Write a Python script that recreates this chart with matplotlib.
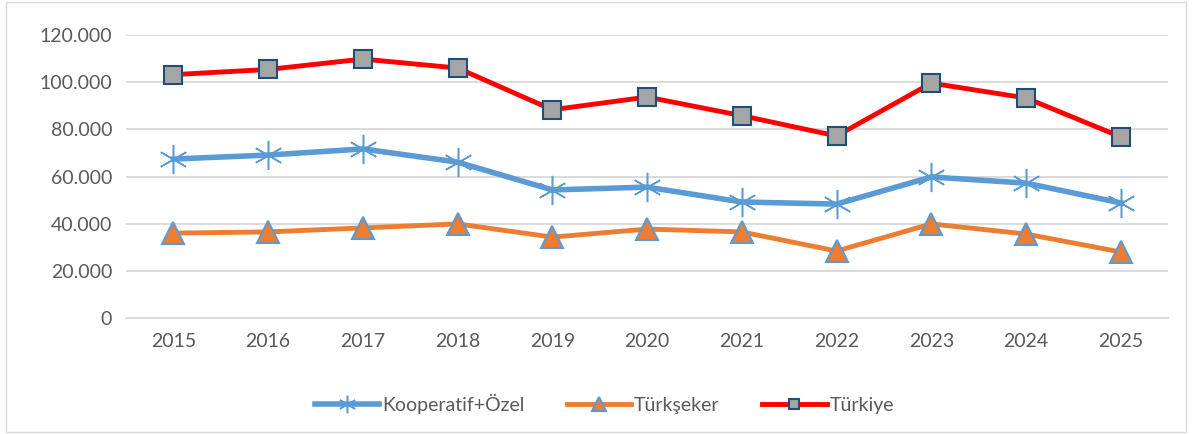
import matplotlib.pyplot as plt
from matplotlib.patches import Rectangle

years = ['2015', '2016', '2017', '2018', '2019', '2020',
         '2021', '2022', '2023', '2024', '2025']
kooperatif = [67400, 69100, 71700, 66100, 54300, 55500,
              49200, 48300, 59800, 57200, 48800]
turkseker = [36000, 36500, 38200, 39900, 34300, 37700,
             36500, 28400, 39900, 35600, 28000]
turkiye = [103200, 105400, 109800, 106000, 88300, 93700,
           85800, 77200, 99600, 93300, 76800]

plt.rcParams['font.family'] = ['Lato', 'DejaVu Sans']

fig = plt.figure(figsize=(11.92, 4.34), dpi=100)
ax = fig.add_axes([0.1057, 0.2673, 0.8743, 0.652])
x = range(len(years))

ax.plot(x, kooperatif, color='#5b9bd5', lw=4, marker=(6, 2, 0), ms=21,
        mew=1.1, mec='#5b9bd5', label='Kooperatif+Özel', zorder=3)
ax.plot(x, turkseker, color='#ed7d31', lw=3.5, marker='^', ms=16,
        mfc='#ed7d31', mec='#5b9bd5', mew=1.5, label='Türkşeker', zorder=3)
ax.plot(x, turkiye, color='#ff0000', lw=3.5, marker='s', ms=13,
        mfc='#a5a5a5', mec='#1f4e79', mew=1.5, label='Türkiye', zorder=3)

ax.set_xlim(-0.5, len(years) - 0.5)
ax.set_ylim(0, 120000)
ax.set_xticks(list(x))
ax.set_xticklabels(years)
yt = list(range(0, 120001, 20000))
ax.set_yticks(yt)
ax.set_yticklabels(['0'] + ['{:,}'.format(v).replace(',', '.') for v in yt[1:]])
ax.tick_params(length=0, labelsize=14, labelcolor='#595959', pad=10)
ax.tick_params(axis='x', pad=11)
ax.grid(axis='y', color='#d9d9d9', lw=1.3)
ax.set_axisbelow(True)
for s in ['top', 'right', 'left']:
    ax.spines[s].set_visible(False)
ax.spines['bottom'].set_color('#d9d9d9')
ax.spines['bottom'].set_linewidth(1.3)

leg = fig.legend(loc='center', bbox_to_anchor=(0.507, 0.069), ncol=3,
                 frameon=False, fontsize=14, handlelength=3.3,
                 columnspacing=2.2, handletextpad=0.15, markerscale=0.6)
for t in leg.get_texts():
    t.set_color('#595959')

fig.patches.append(Rectangle((0.005, 0.005), 0.99, 0.99, transform=fig.transFigure,
                             fill=False, ec='#d9d9d9', lw=1))

fig.savefig('out.png', dpi=100)
